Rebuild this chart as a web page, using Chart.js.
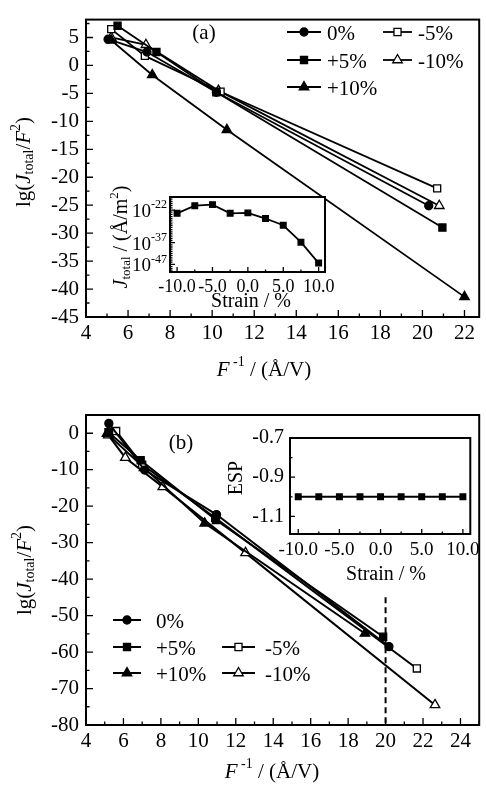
<!DOCTYPE html>
<html>
<head>
<meta charset="utf-8">
<script src="https://cdn.jsdelivr.net/npm/chart.js@4.4.1/dist/chart.umd.min.js"></script>
<style>
  body { margin: 0; background: #fff; width: 486px; height: 785px; overflow: hidden; position: relative; }
  canvas { position: absolute; }
</style>
</head>
<body>
<canvas id="chartA" width="486" height="390" style="left:0;top:0"></canvas>
<canvas id="insetA" width="240" height="130" style="left:100px;top:180px"></canvas>
<canvas id="chartB" width="486" height="395" style="left:0;top:390px"></canvas>
<canvas id="insetB" width="270" height="165" style="left:215px;top:420px"></canvas>
<script>
// ---- data ----
const seriesLabels = ['0%', '+5%', '-5%', '+10%', '-10%'];

// panel (a): x = 1/F (A/V), y = lg(J/F^2)
const aX_0 = [5.05, 6.9, 10.2, 20.3];
const aY_0 = [4.7, 2.4, -4.8, -25.1];
const aX_p5 = [5.5, 7.35, 10.2, 20.95];
const aY_p5 = [7.1, 2.4, -4.8, -29.0];
const aX_m5 = [5.2, 6.8, 10.4, 20.7];
const aY_m5 = [6.5, 1.7, -4.7, -22.0];
const aX_p10 = [5.2, 7.15, 10.7, 22.0];
const aY_p10 = [4.5, -1.7, -11.5, -41.4];
const aX_m10 = [5.2, 6.85, 10.3, 20.8];
const aY_m10 = [5.0, 3.7, -4.5, -25.1];

// panel (b)
const bX_0 = [5.22, 7.13, 10.97, 20.18];
const bY_0 = [2.7, -10.1, -22.3, -58.5];
const bX_p5 = [5.2, 6.92, 10.94, 19.87];
const bY_p5 = [0.3, -7.4, -23.8, -55.8];
const bX_m5 = [5.61, 7.0, 10.9, 21.67];
const bY_m5 = [0.6, -8.6, -23.2, -64.5];
const bX_p10 = [5.12, 7.1, 10.34, 18.9];
const bY_p10 = [-0.1, -9.5, -24.7, -54.9];
const bX_m10 = [5.19, 6.1, 8.1, 12.52, 22.64];
const bY_m10 = [-0.5, -6.7, -14.7, -32.8, -74.5];
const dashX = [20, 20];
const dashY = [-45, -80];

// insets: strain (%) vs lg J_total and ESP
const strain = [-10, -7.5, -5, -2.5, 0, 2.5, 5, 7.5, 10];
const lgJtotal = [-23.5, -20, -19.5, -23.5, -23.3, -25.9, -29, -36.8, -46.4];
const esp = [-1, -1, -1, -1, -1, -1, -1, -1, -1];

// tick labels
const aXTicks = [4, 6, 8, 10, 12, 14, 16, 18, 20, 22];
const aYTicks = [-45, -40, -35, -30, -25, -20, -15, -10, -5, 0, 5];
const bXTicks = [4, 6, 8, 10, 12, 14, 16, 18, 20, 22, 24];
const bYTicks = [-80, -70, -60, -50, -40, -30, -20, -10, 0];
const strainTicks = [-10, -5, 0, 5, 10];
const insetAYTicks = [-22, -37, -47];
const espTicks = [-1.1, -0.9, -0.7];

// ---- helpers ----
const FAM = "'Liberation Serif', 'Times New Roman', serif";
Chart.defaults.font.family = FAM;
Chart.defaults.font.size = 21;
Chart.defaults.color = '#000';
Chart.defaults.animation = false;

const marks = [
  { style: 'circle', fill: '#000', r: 4 },
  { style: 'rect', fill: '#000', r: 5 },
  { style: 'rect', fill: '#fff', r: 5 },
  { style: 'triangle', fill: '#000', r: 5.5 },
  { style: 'triangle', fill: '#fff', r: 5.5 }
];

function pts(xs, ys) { return xs.map((x, i) => ({ x: x, y: ys[i] })); }

function series(label, xs, ys, m, lw) {
  return {
    label: label, data: pts(xs, ys), showLine: true, clip: false,
    borderColor: '#000', borderWidth: lw,
    pointStyle: m.style, pointRadius: m.r, pointHoverRadius: m.r,
    pointBackgroundColor: m.fill, pointBorderColor: '#000', pointBorderWidth: 1.3
  };
}

function range(a, b, step) {
  const out = [];
  for (let v = a; v <= b + 1e-9; v += step) out.push(+v.toFixed(4));
  return out;
}

function font(p) { return (p.i ? 'italic ' : '') + (p.s || 21) + 'px ' + FAM; }

function rich(ctx, parts, x, y, align, rot) {
  ctx.save();
  ctx.translate(x, y);
  if (rot) ctx.rotate(-Math.PI / 2);
  let w = 0;
  parts.forEach(p => { ctx.font = font(p); p.w = ctx.measureText(p.t).width; w += p.w; });
  let cx = align === 'center' ? -w / 2 : align === 'right' ? -w : 0;
  ctx.textBaseline = 'middle';
  ctx.textAlign = 'left';
  ctx.fillStyle = '#000';
  parts.forEach(p => { ctx.font = font(p); ctx.fillText(p.t, cx, p.dy || 0); cx += p.w; });
  ctx.restore();
}

function marker(ctx, m, x, y) {
  ctx.beginPath();
  if (m.style === 'circle') ctx.arc(x, y, m.r, 0, Math.PI * 2);
  else if (m.style === 'rect') { const s = m.r * Math.SQRT1_2; ctx.rect(x - s, y - s, 2 * s, 2 * s); }
  else {
    ctx.moveTo(x, y - m.r);
    ctx.lineTo(x + m.r * Math.sin(2 * Math.PI / 3), y - m.r * Math.cos(2 * Math.PI / 3));
    ctx.lineTo(x + m.r * Math.sin(4 * Math.PI / 3), y - m.r * Math.cos(4 * Math.PI / 3));
    ctx.closePath();
  }
  ctx.fillStyle = m.fill;
  ctx.fill();
  ctx.lineWidth = 1.3;
  ctx.strokeStyle = '#000';
  ctx.stroke();
}

function legend(ctx, items, size, lw) {
  items.forEach(it => {
    ctx.save();
    ctx.strokeStyle = '#000';
    ctx.lineWidth = lw;
    ctx.beginPath();
    ctx.moveTo(it.x1, it.y); ctx.lineTo(it.x2, it.y);
    ctx.stroke();
    marker(ctx, marks[it.k], (it.x1 + it.x2) / 2, it.y);
    ctx.restore();
    rich(ctx, [{ t: seriesLabels[it.k], s: size }], it.tx, it.y + 2, 'left');
  });
}

function decor(o) {
  return {
    id: 'decor',
    beforeDraw(chart) {
      if (!o.white) return;
      const a = chart.chartArea, ctx = chart.ctx;
      ctx.save();
      ctx.fillStyle = '#fff';
      ctx.fillRect(a.left, a.top, a.right - a.left, a.bottom - a.top);
      ctx.restore();
    },
    afterDraw(chart) {
      const a = chart.chartArea, ctx = chart.ctx, sx = chart.scales.x, sy = chart.scales.y;
      ctx.save();
      ctx.strokeStyle = '#000';
      ctx.lineWidth = 1.3;
      ctx.beginPath();
      o.xMajor.forEach(v => { const p = sx.getPixelForValue(v); ctx.moveTo(p, a.bottom); ctx.lineTo(p, a.bottom - o.len); });
      o.xMinor.forEach(v => { const p = sx.getPixelForValue(v); ctx.moveTo(p, a.bottom); ctx.lineTo(p, a.bottom - o.len / 2); });
      o.yMajor.forEach(v => { const p = sy.getPixelForValue(v); ctx.moveTo(a.left, p); ctx.lineTo(a.left + o.len, p); });
      o.yMinor.forEach(v => { const p = sy.getPixelForValue(v); ctx.moveTo(a.left, p); ctx.lineTo(a.left + o.len / 2, p); });
      ctx.stroke();
      ctx.lineWidth = o.frame;
      ctx.strokeRect(a.left, a.top, a.right - a.left, a.bottom - a.top);
      ctx.restore();
      if (o.extra) o.extra(chart, ctx);
    }
  };
}

function scales(x, y) {
  function ax(c, pos) {
    return {
      type: 'linear', position: pos, min: c.min, max: c.max,
      grid: { display: false, drawTicks: false }, border: { display: false },
      ticks: { display: c.show !== false, autoSkip: false, maxRotation: 0, padding: c.pad, font: { size: c.size || 21 },
               callback: c.fmt || (v => String(v)) },
      afterBuildTicks: s => { s.ticks = c.ticks.map(v => ({ value: v })); },
      afterFit: s => { if (pos === 'left') s.width = c.size2; else s.height = c.size2; }
    };
  }
  return { x: ax(x, 'bottom'), y: ax(y, 'left') };
}

const baseOpts = { responsive: false, plugins: { legend: { display: false }, tooltip: { enabled: false } }, events: [] };

// ---- panel (a) ----
const lgLabel = [{ t: 'lg(' }, { t: 'J', i: true }, { t: 'total', s: 14, dy: 5 }, { t: '/' }, { t: 'F', i: true }, { t: '2', s: 14, dy: -8 }, { t: ')' }];
const fLabel = [{ t: 'F', i: true }, { t: ' -1', s: 14, dy: -8 }, { t: ' / (Å/V)' }];

new Chart('chartA', {
  type: 'scatter',
  data: { datasets: [
    series(seriesLabels[0], aX_0, aY_0, marks[0], 1.8),
    series(seriesLabels[1], aX_p5, aY_p5, marks[1], 1.8),
    series(seriesLabels[2], aX_m5, aY_m5, marks[2], 1.8),
    series(seriesLabels[3], aX_p10, aY_p10, marks[3], 1.8),
    series(seriesLabels[4], aX_m10, aY_m10, marks[4], 1.8)
  ] },
  options: Object.assign({}, baseOpts, {
    layout: { padding: { top: 8, right: 2, left: 0, bottom: 0 } },
    scales: scales(
      { min: 4, max: 22.7, ticks: aXTicks, pad: 4, size2: 73 },
      { min: -45, max: 8.2, ticks: aYTicks, pad: 7, size2: 86 }
    )
  }),
  plugins: [decor({
    len: 7, frame: 2,
    xMajor: aXTicks, xMinor: range(5, 22, 2),
    yMajor: aYTicks, yMinor: range(-42.5, 7.5, 5),
    extra: (chart, ctx) => {
      rich(ctx, lgLabel, 24, 162, 'center', true);
      rich(ctx, fLabel, 264, 370, 'center');
      rich(ctx, [{ t: '(a)', s: 21 }], 204, 33, 'center');
      legend(ctx, [
        { k: 0, x1: 287, x2: 321, y: 32, tx: 327 },
        { k: 2, x1: 383, x2: 412, y: 32, tx: 418 },
        { k: 1, x1: 287, x2: 321, y: 60, tx: 327 },
        { k: 4, x1: 383, x2: 412, y: 60, tx: 418 },
        { k: 3, x1: 287, x2: 321, y: 87, tx: 327 }
      ], 21, 1.8);
    }
  })]
});

// inset (a): J_total vs strain (log scale shown as exponents)
new Chart('insetA', {
  type: 'scatter',
  data: { datasets: [series('J', strain, lgJtotal, { style: 'rect', fill: '#000', r: 4 }, 1.8)] },
  options: Object.assign({}, baseOpts, {
    layout: { padding: { top: 17, right: 15, left: 0, bottom: 0 } },
    scales: scales(
      { min: -11, max: 10.9, ticks: strainTicks, pad: 4, size2: 38, size: 18, fmt: v => v.toFixed(1) },
      { min: -50.5, max: -16, ticks: insetAYTicks, pad: 4, size2: 70, show: false }
    )
  }),
  plugins: [decor({
    len: 5, frame: 2, white: true,
    xMajor: strainTicks, xMinor: range(-7.5, 7.5, 5),
    yMajor: insetAYTicks, yMinor: range(-50, -16, 1),
    extra: (chart, ctx) => {
      const sy = chart.scales.y;
      insetAYTicks.forEach(v => {
        rich(ctx, [{ t: '10', s: 19 }, { t: String(v), s: 12, dy: -7 }], 67, sy.getPixelForValue(v) + 2, 'right');
      });
      rich(ctx, [{ t: 'J', i: true, s: 20 }, { t: 'total', s: 13, dy: 5 }, { t: ' / (Å/m', s: 20 }, { t: '2', s: 13, dy: -7 }, { t: ')', s: 20 }], 22, 57, 'center', true);
      rich(ctx, [{ t: 'Strain / %', s: 20 }], 151, 122, 'center');
    }
  })]
});

// ---- panel (b) ----
new Chart('chartB', {
  type: 'scatter',
  data: { datasets: [
    series(seriesLabels[0], bX_0, bY_0, marks[0], 2),
    series(seriesLabels[1], bX_p5, bY_p5, marks[1], 2),
    series(seriesLabels[2], bX_m5, bY_m5, marks[2], 2),
    series(seriesLabels[3], bX_p10, bY_p10, marks[3], 2),
    series(seriesLabels[4], bX_m10, bY_m10, marks[4], 2),
    { label: 'dash', data: pts(dashX, dashY), showLine: true, borderColor: '#000', borderWidth: 2,
      borderDash: [6, 4], pointRadius: 0 }
  ] },
  options: Object.assign({}, baseOpts, {
    layout: { padding: { top: 25, right: 2, left: 0, bottom: 0 } },
    scales: scales(
      { min: 4, max: 25, ticks: bXTicks, pad: 4, size2: 60 },
      { min: -80, max: 5, ticks: bYTicks, pad: 7, size2: 86 }
    )
  }),
  plugins: [decor({
    len: 7, frame: 2,
    xMajor: bXTicks, xMinor: range(5, 25, 2),
    yMajor: bYTicks, yMinor: range(-75, 5, 10),
    extra: (chart, ctx) => {
      rich(ctx, lgLabel, 25, 180, 'center', true);
      rich(ctx, fLabel, 272, 382, 'center');
      rich(ctx, [{ t: '(b)', s: 21 }], 181, 53, 'center');
      legend(ctx, [
        { k: 0, x1: 113, x2: 141, y: 230, tx: 156 },
        { k: 1, x1: 113, x2: 141, y: 257, tx: 156 },
        { k: 2, x1: 222, x2: 255, y: 257, tx: 265 },
        { k: 3, x1: 113, x2: 141, y: 283, tx: 156 },
        { k: 4, x1: 222, x2: 255, y: 283, tx: 265 }
      ], 21, 2);
    }
  })]
});

// inset (b): ESP vs strain
new Chart('insetB', {
  type: 'scatter',
  data: { datasets: [series('ESP', strain, esp, { style: 'rect', fill: '#000', r: 4 }, 2)] },
  options: Object.assign({}, baseOpts, {
    layout: { padding: { top: 12, right: 12, left: 0, bottom: 0 } },
    scales: scales(
      { min: -11, max: 10.9, ticks: strainTicks, pad: 5, size2: 51, size: 19, fmt: v => v.toFixed(1) },
      { min: -1.19, max: -0.7, ticks: espTicks, pad: 6, size2: 75, size: 20, fmt: v => v.toFixed(1) }
    )
  }),
  plugins: [decor({
    len: 5, frame: 2, white: true,
    xMajor: strainTicks, xMinor: range(-7.5, 7.5, 5),
    yMajor: espTicks, yMinor: [-1.0, -0.8],
    extra: (chart, ctx) => {
      rich(ctx, [{ t: 'ESP', s: 20 }], 22, 58, 'center', true);
      rich(ctx, [{ t: 'Strain / %', s: 20 }], 171, 155, 'center');
    }
  })]
});
</script>
</body>
</html>
